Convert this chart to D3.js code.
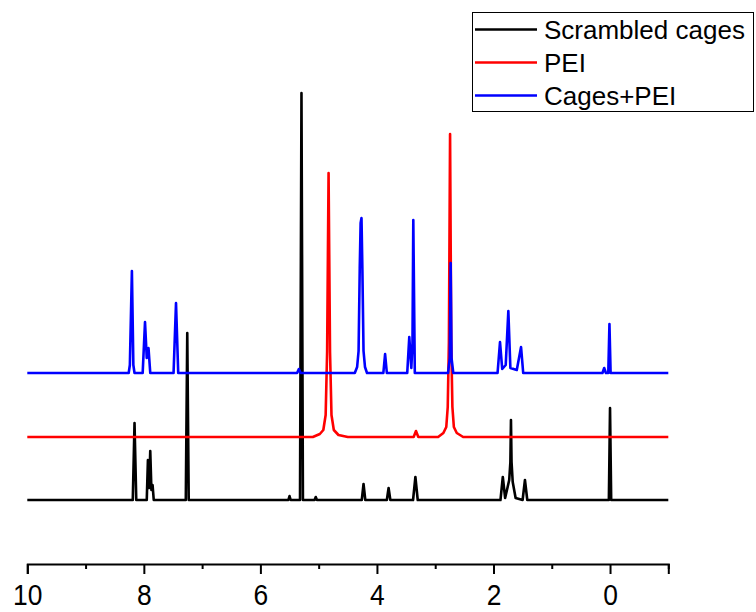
<!DOCTYPE html>
<html>
<head>
<meta charset="utf-8">
<script src="https://cdn.jsdelivr.net/npm/d3@7"></script>
<style>
	body { margin: 0; background: #fff; }
	svg { display: block; font-family: Arial, "Liberation Sans", sans-serif; }
</style>
</head>
<body>
<div id="chart"></div>
<script>

// chemical shift (ppm), intensity above each trace's baseline
const scrambled = [
	[10, 0],
	[8.19, 0], [8.16, 77], [8.13, 0],
	[7.95, 0], [7.93, 40], [7.91, 12], [7.89, 49], [7.87, 10], [7.85, 15], [7.83, 0],
	[7.28, 0], [7.255, 167], [7.23, 0],
	[5.52, 0], [5.50, 4], [5.48, 0],
	[5.32, 0], [5.295, 407], [5.27, 0],
	[5.07, 0], [5.05, 3], [5.03, 0],
	[4.26, 0], [4.23, 16], [4.20, 0],
	[3.83, 0], [3.80, 12], [3.77, 0],
	[3.38, 0], [3.34, 23], [3.30, 0],
	[1.88, 0], [1.84, 23], [1.80, 2], [1.73, 20], [1.71, 38], [1.70, 80], [1.69, 38], [1.67, 18], [1.62, 2],
	[1.50, 0], [1.46, 20], [1.42, 0],
	[0.02, 0], [0.0, 92], [-0.02, 0],
	[-1, 0]
];

const pei = [
	[10, 0],
	[5.1, 0], [4.98, 3], [4.92, 7], [4.88, 22], [4.855, 85], [4.83, 264], [4.805, 85], [4.78, 22], [4.74, 7], [4.66, 2], [4.5, 0],
	[3.37, 0], [3.33, 6], [3.29, 0],
	[2.95, 0], [2.86, 4], [2.81, 10], [2.785, 30], [2.765, 95], [2.745, 303], [2.725, 95], [2.705, 30], [2.68, 10], [2.63, 4], [2.52, 0],
	[-1, 0]
];

const cagesPei = [
	[10, 0],
	[8.26, 0], [8.24, 8], [8.205, 102], [8.18, 8], [8.16, 0],
	[8.02, 0], [7.98, 51], [7.95, 15], [7.92, 25], [7.89, 0],
	[7.49, 0], [7.448, 70], [7.41, 0],
	[5.37, 0], [5.34, 4], [5.31, 0],
	[4.38, 0], [4.34, 6], [4.315, 22], [4.295, 105], [4.28, 150], [4.265, 155], [4.25, 105], [4.23, 22], [4.205, 6], [4.17, 0],
	[3.89, 0], [3.86, 19], [3.83, 0],
	[3.48, 0], [3.445, 36], [3.41, 5], [3.39, 30], [3.376, 153], [3.35, 0],
	[2.78, 0], [2.75, 15], [2.735, 110], [2.72, 15], [2.69, 0],
	[1.93, 0], [1.888, 31], [1.85, 4], [1.79, 8], [1.745, 62], [1.71, 5], [1.6, 3], [1.527, 26], [1.49, 0],
	[0.13, 0], [0.10, 5], [0.07, 0],
	[0.03, 0], [0.01, 49], [-0.01, 0],
	[-1, 0]
];

const seriesNames = ['Scrambled cages', 'PEI', 'Cages+PEI'];
const seriesOffsets = [0, 63, 127];
const seriesColors = ['#000000', '#ff0000', '#0000ff'];
const xTicks = [10, 9, 8, 7, 6, 5, 4, 3, 2, 1, 0, -1];

class Spectra {

	constructor(options) {
		this.series = options.series;
		this.element = options.element;
		this.draw();
	}

	draw() {
		this.width = 756;
		this.height = 612;

		this.createSVG();
		this.createScales();
		this.createAxis();
		this.createLines();
		this.createLegend();
	}

	createSVG() {
		this.svg = d3.select(this.element)
			.append('svg')
				.attr('width', this.width)
				.attr('height', this.height);
	}

	createScales() {
		this.xScale = d3.scaleLinear()
			.domain([10, -1])
			.range([27.3, 668.3]);

		this.yScale = d3.scaleLinear()
			.domain([0, 407])
			.range([500, 93]);
	}

	createAxis() {
		const axis = d3.axisBottom(this.xScale)
			.tickValues(xTicks)
			.tickSizeOuter(0)
			.tickSize(10)
			.tickFormat(d => d % 2 === 0 ? d : '');

		const g = this.svg.append('g')
			.attr('transform', 'translate(0, 564)')
			.call(axis);

		g.select('.domain')
			.attr('stroke', '#000')
			.attr('stroke-width', 2);

		g.selectAll('.tick line')
			.attr('stroke', '#000')
			.attr('stroke-width', 2)
			.attr('y2', d => d % 2 === 0 ? 10 : 5);

		// labels in the original are a bit condensed
		g.selectAll('.tick text')
			.attr('y', 0)
			.attr('dy', 0)
			.attr('transform', 'translate(0, 41) scale(0.88, 1)')
			.attr('fill', '#000')
			.style('font-size', '30px')
			.style('font-family', 'Arial, "Liberation Sans", sans-serif');
	}

	createLines() {
		const that = this;

		this.series.forEach(function(s) {
			const line = d3.line()
				.x(d => that.xScale(d[0]))
				.y(d => that.yScale(d[1] + s.offset));

			that.svg.append('path')
				.datum(s.values)
				.attr('fill', 'none')
				.attr('stroke', s.color)
				.attr('stroke-width', 2.6)
				.attr('stroke-linejoin', 'round')
				.attr('d', line);
		});
	}

	createLegend() {
		const legend = this.svg.append('g');

		legend.append('rect')
			.attr('x', 472.5)
			.attr('y', 12.5)
			.attr('width', 281)
			.attr('height', 99)
			.attr('fill', '#fff')
			.attr('stroke', '#000')
			.attr('stroke-width', 1);

		const rows = legend.selectAll('g.row')
			.data(this.series).enter()
			.append('g')
				.attr('class', 'row')
				.attr('transform', (d, i) => `translate(0, ${29.5 + i * 33})`);

		rows.append('line')
			.attr('x1', 475)
			.attr('x2', 537)
			.attr('stroke', d => d.color)
			.attr('stroke-width', 2.6);

		rows.append('text')
			.attr('x', 544)
			.attr('y', 9)
			.style('font-size', '26px')
			.text(d => d.name);
	}

}

new Spectra({
	element: '#chart',
	series: [
		{ name: seriesNames[0], values: scrambled, offset: seriesOffsets[0], color: seriesColors[0] },
		{ name: seriesNames[1], values: pei, offset: seriesOffsets[1], color: seriesColors[1] },
		{ name: seriesNames[2], values: cagesPei, offset: seriesOffsets[2], color: seriesColors[2] }
	]
});

</script>
</body>
</html>
